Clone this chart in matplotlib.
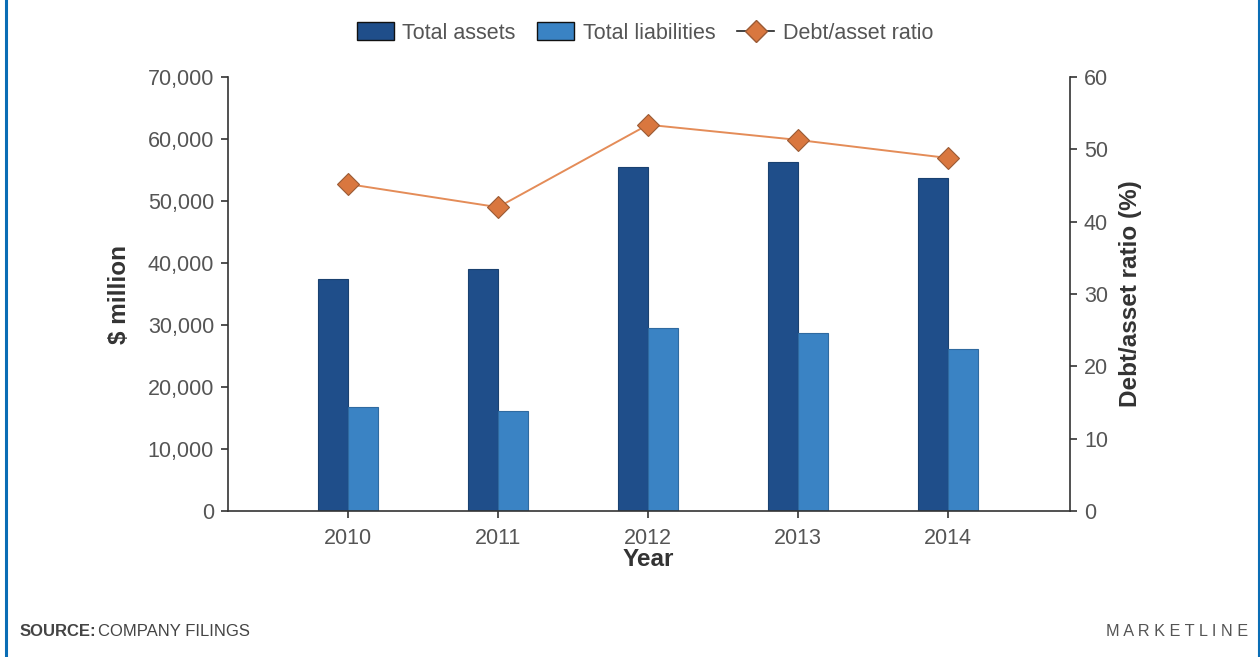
import matplotlib
matplotlib.use("Agg")
import matplotlib.pyplot as plt
from matplotlib.ticker import FuncFormatter
from matplotlib.lines import Line2D
import numpy as np

plt.rcParams['font.family'] = ['Liberation Sans', 'DejaVu Sans']

years = ["2010", "2011", "2012", "2013", "2014"]
total_assets = [37400, 39000, 55500, 56300, 53700]
total_liabilities = [16700, 16200, 29500, 28700, 26100]
debt_asset_ratio = [45.2, 42.0, 53.4, 51.3, 48.8]

c_assets = "#1f4e8a"
c_liab = "#3a83c4"
c_line = "#e48c58"
c_marker = "#d9773f"
c_text = "#555555"
c_axis = "#333333"

fig = plt.figure(figsize=(12.6, 6.57), dpi=100)
ax = fig.add_axes([228/1260, 1-511/657, (1070-228)/1260, (511-77)/657])
ax2 = ax.twinx()

x = np.arange(len(years))
w = 0.2
ax.bar(x - w/2, total_assets, width=w, color=c_assets, edgecolor="#1a4170", linewidth=0.8, zorder=2)
ax.bar(x + w/2, total_liabilities, width=w, color=c_liab, edgecolor="#2f6aa0", linewidth=0.8, zorder=2)

ax2.plot(x, debt_asset_ratio, color=c_line, linewidth=1.4, marker="D", markersize=11,
         markerfacecolor=c_marker, markeredgecolor="#9a5a35", markeredgewidth=0.8, zorder=3)

ax.set_xlim(-120/150, (1070-348)/150)
ax.set_ylim(0, 70000)
ax2.set_ylim(0, 60)
ax.set_yticks(np.arange(0, 70001, 10000))
ax2.set_yticks(np.arange(0, 61, 10))
ax.yaxis.set_major_formatter(FuncFormatter(lambda v, p: f"{int(v):,}"))
ax.set_xticks(x)
ax.set_xticklabels(years)

for a in (ax, ax2):
    a.spines['top'].set_visible(False)
    for s in ('left', 'right', 'bottom'):
        a.spines[s].set_color(c_axis)
        a.spines[s].set_linewidth(1.2)
    a.tick_params(colors=c_axis, labelcolor=c_text, labelsize=15.5, length=5, width=1.2, direction='out')
ax.spines['right'].set_visible(False)
ax2.spines['left'].set_visible(False)
ax2.spines['bottom'].set_visible(False)
ax.tick_params(axis='y', pad=5)
ax2.tick_params(axis='y', pad=5)
ax.tick_params(axis='x', pad=7)

ax.set_ylabel("$ million", fontsize=17.5, fontweight='bold', color="#333333")
ax2.set_ylabel("Debt/asset ratio (%)", fontsize=17.5, fontweight='bold', color="#333333")
ax.set_xlabel("Year", fontsize=17.5, fontweight='bold', color="#333333")
ax.yaxis.label.set_va('center')
ax2.yaxis.label.set_va('center')
ax.xaxis.label.set_va('center')
ax.yaxis.set_label_coords((120-228)/842, 0.5)
ax2.yaxis.set_label_coords((1131-228)/842, 0.5)
ax.xaxis.set_label_coords((648-228)/842, -(560-511)/434)

handles = [
    plt.Rectangle((0, 0), 1, 1, facecolor=c_assets, edgecolor="#111111", linewidth=1.0),
    plt.Rectangle((0, 0), 1, 1, facecolor=c_liab, edgecolor="#111111", linewidth=1.0),
    Line2D([], [], color="#222222", linewidth=1.2, marker="D", markersize=11,
           markerfacecolor=c_marker, markeredgecolor="#9a5a35"),
]
fig.legend(handles, ["Total assets", "Total liabilities", "Debt/asset ratio"],
           loc='center', bbox_to_anchor=(645/1260, 1-33/657), ncol=3, frameon=False,
           fontsize=15.5, labelcolor=c_text, handlelength=1.72, handleheight=0.85,
           handletextpad=0.4, columnspacing=1.0)

fig.text(20/1260, 1-631/657, "SOURCE:", fontsize=12, fontweight='bold', color="#444444", va='center', ha='left')
fig.text(98/1260, 1-631/657, "COMPANY FILINGS", fontsize=12, color="#444444", va='center', ha='left')
fig.text(1248/1260, 1-631/657, "M A R K E T L I N E", fontsize=11.7, color="#555555", va='center', ha='right')

fig.add_artist(Line2D([6/1260, 6/1260], [0, 1], transform=fig.transFigure, color="#0a6db5", linewidth=2.2))
fig.add_artist(Line2D([1258.5/1260, 1258.5/1260], [0, 1], transform=fig.transFigure, color="#0a6db5", linewidth=1.5))

fig.savefig("out.png", dpi=100)
